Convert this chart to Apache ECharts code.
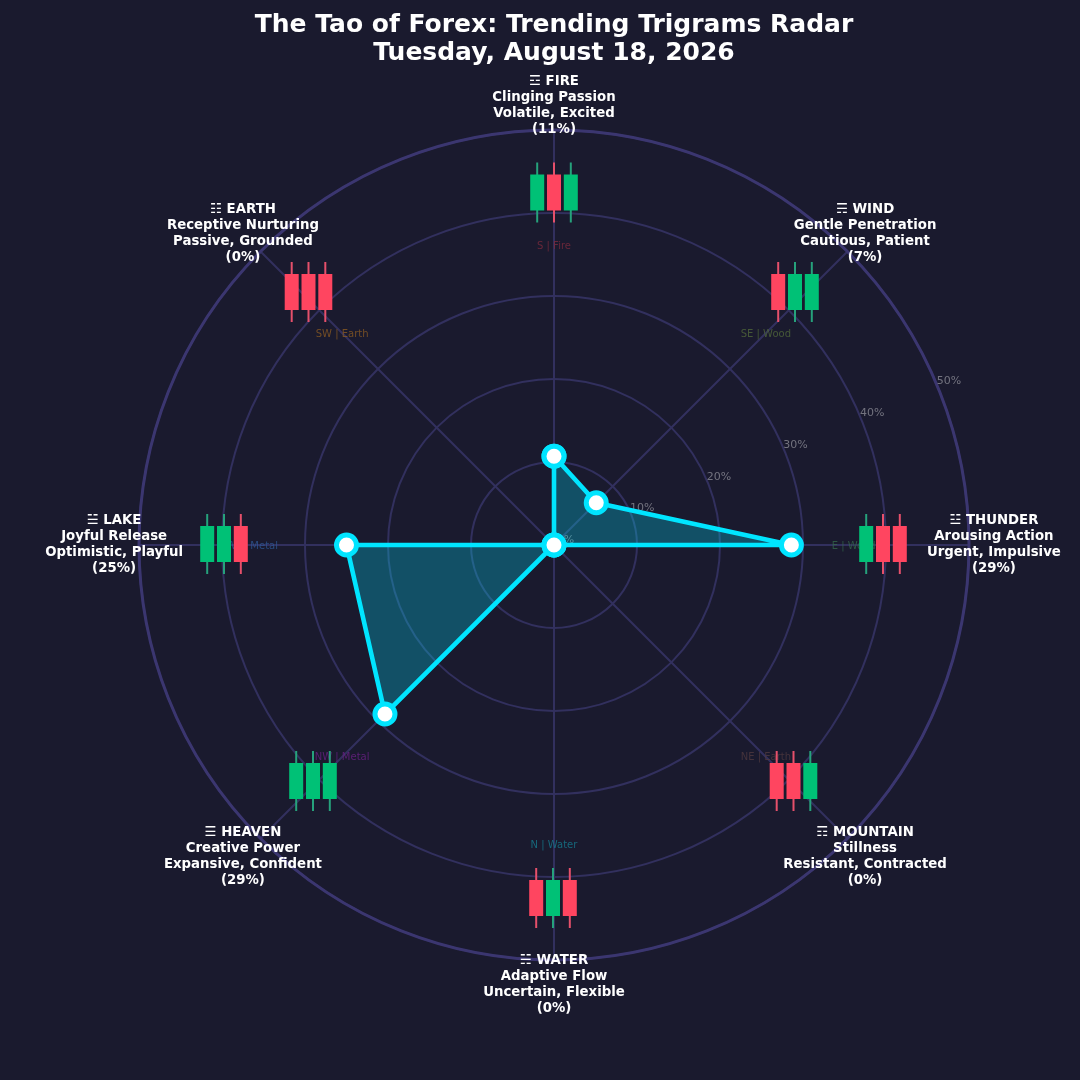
<!DOCTYPE html>
<html><head><meta charset="utf-8">
<style>html,body{margin:0;padding:0;background:#1a1a2e}#c{width:1080px;height:1080px}</style>
<script src="https://cdn.jsdelivr.net/npm/echarts@6/dist/echarts.min.js"></script>
</head><body><div id="c"></div>
<script>
const trigrams = ['FIRE','WIND','THUNDER','MOUNTAIN','WATER','HEAVEN','LAKE','EARTH'];
const symbols = ['☲','☴','☳','☶','☵','☰','☱','☷'];
const meanings = ['Clinging Passion','Gentle Penetration','Arousing Action','Stillness','Adaptive Flow','Creative Power','Joyful Release','Receptive Nurturing'];
const moods = ['Volatile, Excited','Cautious, Patient','Urgent, Impulsive','Resistant, Contracted','Uncertain, Flexible','Expansive, Confident','Optimistic, Playful','Passive, Grounded'];
const percents = [11,7,29,0,0,29,25,0];
const angles = [0,45,90,135,180,225,270,315];
const radarValues = [10.7,7.2,28.6,0,0,28.8,25,0];
const directions = ['S | Fire','SE | Wood','E | Wood','NE | Earth','N | Water','NW | Metal','W | Metal','SW | Earth'];
const directionColors = ['#7c2a3c','#50683a','#33664a','#50393f','#157a8f','#6a2185','#2d5795','#8a5a22'];
const candles = ['GRG','RGG','GRR','RRG','RGR','GGG','GGR','RRR'];
const radiusTicks = [0,10,20,30,40,50];

// candle group centres as pixel offsets from the chart centre
const candleOffsets = [[0,-352.5],[241,-253],[329,-1],[239.5,236],[-1,353],[-241,236],[-330,-1],[-245.5,-253]];
const closed = radarValues.map((v,i)=>[v,angles[i]]).concat([[radarValues[0],360]]);

const option = {
  backgroundColor:'#1a1a2e',
  animation:false,
  title:{text:'The Tao of Forex: Trending Trigrams Radar\nTuesday, August 18, 2026',left:549,top:6,textAlign:'center',
    textStyle:{color:'#fff',fontFamily:'DejaVu Sans',fontWeight:'bold',fontSize:25,lineHeight:28}},
  polar:{center:[554,545],radius:415},
  angleAxis:{type:'value',min:0,max:360,interval:45,startAngle:90,clockwise:true,
    axisLabel:{show:false},axisTick:{show:false},
    axisLine:{show:true,lineStyle:{color:'#3b3670',width:3}},
    splitLine:{show:true,lineStyle:{color:'#32305e',width:2}}},
  radiusAxis:{type:'value',min:0,max:50,interval:10,
    axisLabel:{show:false},axisTick:{show:false},axisLine:{show:false},
    splitLine:{show:true,lineStyle:{color:'#32305e',width:2}}},
  series:[
    {type:'scatter',coordinateSystem:'polar',symbolSize:0,z:3,silent:true,
      data:radiusTicks.map(r=>[r,67.5]),
      label:{show:true,position:'inside',offset:[11.5,-4.8],formatter:p=>p.value[0]+'%',color:'#8a8a94',fontSize:11,fontFamily:'DejaVu Sans'}},
    {type:'scatter',coordinateSystem:'polar',symbolSize:0,z:3,silent:true,
      data:angles.map((a,i)=>({value:[36.1,a],label:{color:directionColors[i]}})),
      label:{show:true,position:'inside',offset:[0,1],formatter:p=>directions[p.dataIndex],fontSize:10,fontFamily:'DejaVu Sans'}},
    {type:'custom',coordinateSystem:'polar',z:4,silent:true,clip:false,
      data:angles.map(a=>[40,a]),
      renderItem:(params,api)=>{
        const i=params.dataIndex;
        const o=api.coord([0,0]);
        const cx=o[0]+candleOffsets[i][0], cy=o[1]+candleOffsets[i][1];
        const kids=[];
        [...candles[i]].forEach((k,j)=>{
          const x=cx+(j-1)*16.8;
          const body=k==='G'?'#00c176':'#ff4560';
          const wick=k==='G'?'#26a27c':'#e6506b';
          kids.push({type:'rect',shape:{x:x-1,y:cy-30,width:2,height:60},style:{fill:wick}});
          kids.push({type:'rect',shape:{x:x-7,y:cy-18,width:14,height:36},style:{fill:body}});
        });
        return {type:'group',children:kids};
      }},
    {type:'line',coordinateSystem:'polar',z:5,data:closed,clip:false,silent:true,
      showSymbol:true,showAllSymbol:true,symbol:'circle',symbolSize:20,
      lineStyle:{color:'#00e5ff',width:4.6},
      itemStyle:{color:'#fff',borderColor:'#00e5ff',borderWidth:5,opacity:1},
      areaStyle:{color:'#00e5ff',opacity:0.27}},
    {type:'custom',coordinateSystem:'polar',z:6,silent:true,clip:false,
      data:angles.map(a=>[40,a]),
      renderItem:(params,api)=>{
        const i=params.dataIndex;
        const p=api.coord([53,angles[i]]);
        return {type:'text',x:p[0],y:p[1],style:{
          text:symbols[i]+' '+trigrams[i]+'\n'+meanings[i]+'\n'+moods[i]+'\n('+percents[i]+'%)',
          fill:'#fff',font:'bold 13.3px "DejaVu Sans"',lineHeight:16,align:'center',verticalAlign:'middle'}};
      }}
  ]
};
const chart=echarts.init(document.getElementById('c'),null,{renderer:'canvas'});
chart.setOption(option);
</script></body></html>
